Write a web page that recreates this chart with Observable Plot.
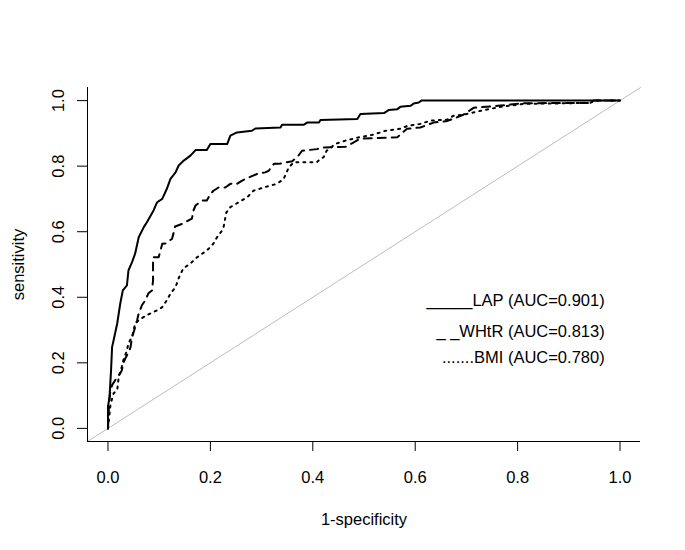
<!DOCTYPE html>
<html><head><meta charset="utf-8">
<script src="https://cdn.jsdelivr.net/npm/d3@7"></script>
<script src="https://cdn.jsdelivr.net/npm/@observablehq/plot@0.6"></script>
<style>body{margin:0;background:#fff;} #chart svg{display:block;}</style>
</head><body><div id="chart"></div>
<script>
// ROC curve data (1-specificity, sensitivity)
const lapFpr = [0,0,0.003,0.006,0.008,0.011,0.018,0.024,0.029,0.037,0.040,0.047,0.053,0.060,0.070,0.076,0.089,0.096,0.106,0.115,0.122,0.132,0.138,0.148,0.161,0.171,0.193,0.200,0.233,0.239,0.252,0.281,0.288,0.337,0.340,0.382,0.389,0.412,0.415,0.487,0.493,0.539,0.548,0.565,0.571,0.591,0.597,0.607,0.612,1.0];
const lapTpr = [0,0.066,0.096,0.177,0.248,0.269,0.320,0.381,0.421,0.436,0.482,0.507,0.533,0.583,0.614,0.629,0.665,0.690,0.700,0.731,0.761,0.781,0.802,0.817,0.832,0.849,0.849,0.868,0.868,0.893,0.903,0.908,0.915,0.918,0.926,0.926,0.933,0.933,0.941,0.944,0.959,0.962,0.971,0.974,0.981,0.984,0.991,0.994,1.0,1.0];

const whtrFpr = [0,0.002,0.004,0.008,0.018,0.024,0.027,0.030,0.034,0.040,0.044,0.047,0.053,0.057,0.059,0.066,0.073,0.079,0.086,0.088,0.088,0.099,0.106,0.112,0.125,0.128,0.131,0.145,0.164,0.167,0.171,0.184,0.193,0.200,0.206,0.216,0.229,0.239,0.252,0.262,0.268,0.291,0.307,0.314,0.324,0.333,0.360,0.372,0.379,0.408,0.421,0.464,0.493,0.565,0.577,0.584,0.610,0.636,0.663,0.675,0.694,0.714,0.761,0.786,0.812,0.942,0.948,1.0];
const whtrTpr = [0,0.071,0.107,0.132,0.157,0.168,0.177,0.199,0.214,0.232,0.247,0.278,0.308,0.330,0.345,0.375,0.391,0.412,0.421,0.451,0.522,0.522,0.563,0.564,0.578,0.595,0.616,0.624,0.640,0.665,0.680,0.695,0.695,0.715,0.725,0.735,0.735,0.746,0.746,0.756,0.761,0.776,0.781,0.786,0.807,0.807,0.815,0.832,0.847,0.852,0.857,0.859,0.884,0.888,0.905,0.914,0.918,0.933,0.938,0.945,0.957,0.978,0.984,0.988,0.992,0.993,1.0,1.0];

const bmiFpr = [0,0.005,0.011,0.018,0.021,0.027,0.030,0.037,0.040,0.047,0.050,0.053,0.060,0.070,0.083,0.096,0.106,0.115,0.122,0.132,0.138,0.147,0.161,0.174,0.193,0.200,0.206,0.213,0.223,0.226,0.231,0.239,0.272,0.284,0.317,0.330,0.343,0.346,0.353,0.363,0.408,0.415,0.421,0.427,0.444,0.464,0.487,0.518,0.542,0.571,0.585,0.610,0.630,0.663,0.675,0.694,0.728,0.767,0.812,0.942,0.950,1.0];
const bmiTpr = [0,0.074,0.107,0.117,0.157,0.188,0.208,0.238,0.260,0.279,0.299,0.320,0.330,0.340,0.351,0.360,0.370,0.391,0.411,0.431,0.458,0.488,0.503,0.522,0.543,0.553,0.564,0.583,0.604,0.616,0.658,0.675,0.705,0.725,0.741,0.746,0.761,0.771,0.796,0.812,0.812,0.823,0.827,0.847,0.868,0.878,0.887,0.896,0.908,0.914,0.923,0.929,0.939,0.942,0.954,0.957,0.969,0.981,0.990,0.993,1.0,1.0];

const xTicks = [0,0.2,0.4,0.6,0.8,1.0];
const yTicks = [0,0.2,0.4,0.6,0.8,1.0];
const xLabel = "1-specificity";
const yLabel = "sensitivity";
const legendLabels = ["_____LAP (AUC=0.901)", "_ _WHtR (AUC=0.813)", ".......BMI (AUC=0.780)"];
const legendY = [0.389, 0.296, 0.216];
const legendX = 0.970;

const xDomain = [-0.04, 1.04];
const yDomain = [-0.04, 1.04];
const font = "'Liberation Sans', Arial, sans-serif";
const fs = 16.5;

const toRows = (xs, ys) => xs.map((x, i) => ({fpr: x, tpr: ys[i]}));
const lap = toRows(lapFpr, lapTpr);
const whtr = toRows(whtrFpr, whtrTpr);
const bmi = toRows(bmiFpr, bmiTpr);
const diag = [{fpr: xDomain[0], tpr: yDomain[0]}, {fpr: xDomain[1], tpr: yDomain[1]}];
const legend = legendLabels.map((t, i) => ({t, x: legendX, y: legendY[i]}));

const chart = Plot.plot({
  width: 685,
  height: 550,
  marginLeft: 87,
  marginRight: 45,
  marginTop: 87,
  marginBottom: 109,
  style: {fontFamily: font, background: "white", color: "black"},
  x: {domain: xDomain, axis: null, label: null},
  y: {domain: yDomain, axis: null, label: null},
  marks: [
    Plot.line(diag, {x: "fpr", y: "tpr", stroke: "#bdbdbd", strokeWidth: 1}),
    Plot.line(bmi, {x: "fpr", y: "tpr", stroke: "black", strokeWidth: 2, strokeDasharray: "2,5"}),
    Plot.line(whtr, {x: "fpr", y: "tpr", stroke: "black", strokeWidth: 2, strokeDasharray: "8,6"}),
    Plot.line(lap, {x: "fpr", y: "tpr", stroke: "black", strokeWidth: 2}),
    Plot.ruleY([yDomain[0]], {stroke: "black", strokeWidth: 1}),
    Plot.ruleX([xDomain[0]], {stroke: "black", strokeWidth: 1}),
    // tick marks: 10px outward from the axis lines
    Plot.ruleX(xTicks, {x: d => d, y1: () => yDomain[0], y2: () => yDomain[0], insetBottom: -10, stroke: "black", strokeWidth: 1}),
    Plot.ruleY(yTicks, {y: d => d, x1: () => xDomain[0], x2: () => xDomain[0], insetLeft: -10, stroke: "black", strokeWidth: 1}),
    Plot.text(xTicks, {x: d => d, frameAnchor: "bottom", dy: 36, text: d => d.toFixed(1), fontSize: fs, fill: "black", lineAnchor: "middle"}),
    Plot.text(yTicks, {y: d => d, frameAnchor: "left", dx: -29, rotate: -90, text: d => d.toFixed(1), fontSize: fs, fill: "black", lineAnchor: "middle", textAnchor: "middle"}),
    Plot.text([xLabel], {frameAnchor: "bottom", dy: 78, text: d => d, fontSize: fs, fill: "black", lineAnchor: "middle"}),
    Plot.text([yLabel], {frameAnchor: "left", dx: -69, rotate: -90, text: d => d, fontSize: fs, fill: "black", lineAnchor: "middle", textAnchor: "middle"}),
    Plot.text(legend, {x: "x", y: "y", text: "t", textAnchor: "end", lineAnchor: "middle", fontSize: fs, fill: "black"})
  ]
});
document.getElementById("chart").appendChild(chart);
</script>
</body></html>
